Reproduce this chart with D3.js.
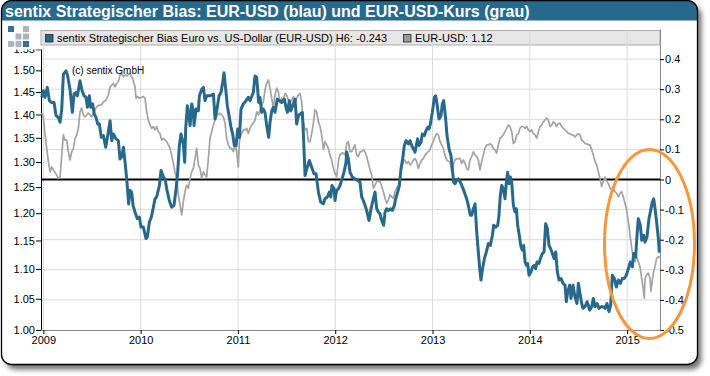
<!DOCTYPE html>
<html>
<head>
<meta charset="utf-8">
<script src="https://cdn.jsdelivr.net/npm/d3@7"></script>
<style>
body { margin: 0; background: #fff; }
svg text { font-family: Arial, "Liberation Sans", sans-serif; }
</style>
</head>
<body>
<svg width="710" height="376"></svg>
<script>
// decimal years / values
const biasYears = [
2008.983,2009.000,2009.017,2009.041,2009.062,2009.086,2009.110,2009.131,2009.154,2009.172,
2009.189,2009.206,2009.233,2009.250,2009.274,2009.298,2009.316,2009.336,2009.350,2009.377,
2009.398,2009.418,2009.439,2009.453,2009.473,2009.487,2009.507,2009.524,2009.542,2009.559,
2009.576,2009.596,2009.617,2009.641,2009.662,2009.686,2009.703,2009.720,2009.747,2009.771,
2009.788,2009.809,2009.823,2009.840,2009.857,2009.877,2009.891,2009.908,2009.922,2009.942,
2009.966,2009.987,2010.004,2010.028,2010.055,2010.069,2010.090,2010.110,2010.131,2010.148,
2010.165,2010.193,2010.210,2010.234,2010.251,2010.268,2010.295,2010.319,2010.343,2010.364,
2010.381,2010.398,2010.415,2010.439,2010.453,2010.463,2010.480,2010.497,2010.508,2010.525,
2010.542,2010.549,2010.570,2010.593,2010.604,2010.628,2010.645,2010.662,2010.679,2010.713,
2010.748,2010.765,2010.782,2010.806,2010.826,2010.843,2010.857,2010.871,2010.891,2010.912,
2010.929,2010.946,2010.963,2010.981,2010.998,2011.015,2011.032,2011.056,2011.083,2011.107,
2011.124,2011.158,2011.176,2011.193,2011.213,2011.227,2011.244,2011.261,2011.278,2011.296,
2011.316,2011.330,2011.347,2011.364,2011.381,2011.405,2011.426,2011.450,2011.477,2011.494,
2011.508,2011.529,2011.542,2011.563,2011.587,2011.604,2011.621,2011.638,2011.662,2011.672,
2011.690,2011.707,2011.734,2011.758,2011.782,2011.803,2011.827,2011.851,2011.878,2011.895,
2011.919,2011.940,2011.954,2011.967,2011.988,2011.998,2012.015,2012.032,2012.049,2012.070,
2012.090,2012.111,
2012.118,2012.135,2012.152,2012.176,2012.203,2012.231,2012.255,2012.272,2012.289,2012.313,
2012.327,2012.347,2012.368,2012.392,2012.409,2012.426,2012.443,2012.460,2012.477,2012.498,
2012.512,2012.529,2012.546,2012.570,2012.587,2012.608,2012.621,2012.642,2012.659,2012.676,
2012.693,2012.710,2012.728,2012.752,2012.769,2012.786,2012.803,2012.820,2012.834,2012.847,
2012.861,2012.882,2012.895,2012.916,2012.933,2012.950,2012.964,2012.978,2012.998,2013.019,
2013.032,2013.046,2013.067,2013.087,2013.101,2013.115,2013.135,2013.149,2013.170,2013.190,
2013.204,2013.217,2013.231,2013.248,2013.265,2013.286,2013.307,2013.327,2013.351,2013.368,
2013.389,2013.402,2013.420,2013.437,2013.454,2013.471,2013.485,2013.498,2013.512,2013.533,
2013.553,2013.574,2013.594,2013.615,2013.629,2013.649,2013.670,2013.683,2013.697,2013.711,
2013.728,2013.745,2013.759,2013.772,2013.786,2013.800,2013.814,2013.831,2013.848,2013.862,
2013.875,2013.892,2013.906,2013.923,2013.937,2013.951,2013.964,2013.978,2013.992,2014.012,
2014.029,2014.046,2014.060,2014.074,2014.095,2014.108,2014.129,2014.146,2014.163,2014.180,
2014.197,2014.214,2014.232,2014.249,2014.266,2014.283,2014.300,2014.321,2014.341,2014.362,
2014.375,2014.389,2014.410,2014.423,2014.444,2014.464,2014.485,2014.499,2014.516,2014.533,
2014.547,2014.567,2014.588,2014.601,2014.615,2014.636,2014.653,2014.670,2014.691,2014.711,
2014.732,2014.752,2014.773,2014.793,2014.814,2014.831,2014.848,2014.869,2014.889,2014.910,
2014.930,2014.951,2014.971,2014.992,2015.013,2015.033,2015.054,2015.067,2015.088,2015.102,
2015.115,2015.136,2015.150,2015.170,2015.184,2015.204,2015.225,2015.239,2015.259,2015.273,
2015.287,2015.307,2015.321,2015.331
];
const biasValues = [
0.273,0.295,0.273,0.306,0.262,0.256,0.256,0.212,0.206,0.190,
0.234,0.350,0.361,0.344,0.300,0.223,0.284,0.289,0.278,0.328,
0.295,0.278,0.273,0.240,0.278,0.240,0.251,0.217,0.206,0.184,
0.184,0.140,0.146,0.107,0.146,0.195,0.129,0.151,0.135,0.129,
0.068,0.079,0.107,0.057,0.002,-0.081,-0.036,-0.042,-0.086,-0.108,
-0.130,-0.125,-0.158,-0.158,-0.196,-0.191,-0.141,-0.125,-0.092,-0.064,
-0.058,-0.020,0.030,0.008,0.002,-0.031,-0.070,-0.092,-0.086,-0.031,
0.024,0.113,0.151,0.118,0.057,0.168,0.245,0.212,0.179,0.251,
0.228,0.179,0.234,0.228,0.278,0.300,0.306,0.262,0.278,0.278,
0.284,0.201,0.228,0.278,0.289,0.322,0.355,0.311,0.245,0.206,
0.173,0.151,0.113,0.113,0.168,0.140,0.234,0.251,0.262,0.273,
0.262,0.289,0.344,0.339,0.256,0.273,0.223,0.234,0.223,0.179,
0.140,0.190,0.228,0.240,0.223,0.267,0.262,0.256,0.267,0.240,
0.223,0.262,0.228,0.245,0.267,0.184,0.212,0.217,0.223,0.157,
0.013,0.035,0.063,0.041,0.019,0.019,-0.042,-0.075,-0.081,-0.064,
-0.058,-0.042,-0.058,-0.020,-0.031,-0.070,-0.036,-0.031,-0.020,0.002,
0.024,0.057,
0.091,0.068,0.024,0.008,0.002,-0.003,-0.009,-0.058,-0.070,-0.092,
-0.108,-0.136,-0.097,-0.064,-0.042,-0.097,-0.108,-0.114,-0.136,-0.152,
-0.108,-0.097,-0.103,-0.097,-0.103,-0.086,-0.064,-0.042,-0.020,0.035,
0.068,0.113,0.129,0.118,0.129,0.113,0.102,0.091,0.113,0.135,
0.113,0.124,0.151,0.146,0.162,0.173,0.168,0.184,0.223,0.273,
0.278,0.251,0.201,0.212,0.251,0.262,0.201,0.146,0.102,0.079,
0.035,-0.009,-0.014,-0.003,0.002,-0.009,-0.025,-0.042,-0.064,-0.086,
-0.119,-0.119,-0.097,-0.081,-0.174,-0.241,-0.296,-0.334,-0.301,-0.263,
-0.241,-0.213,-0.219,-0.185,-0.152,-0.158,-0.152,-0.119,-0.053,-0.020,
-0.031,-0.064,-0.009,0.024,-0.014,0.008,-0.009,-0.086,-0.108,-0.097,
-0.152,-0.185,-0.219,-0.235,-0.219,-0.274,-0.285,-0.279,-0.318,-0.307,
-0.290,-0.285,-0.296,-0.274,-0.279,-0.263,-0.246,-0.241,-0.147,-0.163,
-0.219,-0.230,-0.246,-0.263,-0.241,-0.307,-0.334,-0.329,-0.345,-0.351,
-0.406,-0.373,-0.351,-0.395,-0.351,-0.390,-0.412,-0.345,-0.379,-0.412,
-0.428,-0.423,-0.406,-0.417,-0.434,-0.423,-0.395,-0.423,-0.412,-0.428,
-0.423,-0.423,-0.428,-0.412,-0.439,-0.417,-0.318,-0.329,-0.357,-0.334,
-0.345,-0.329,-0.329,-0.318,-0.296,-0.274,-0.290,-0.246,-0.257,-0.185,
-0.130,-0.152,-0.202,-0.185,-0.208,-0.191,-0.130,-0.108,-0.075,-0.064,
-0.097,-0.152,-0.196,-0.243
];

const fxYears = [
2008.983,2009.000,2009.017,2009.035,2009.052,2009.069,2009.086,2009.103,2009.127,2009.154,
2009.172,2009.189,2009.206,2009.223,2009.240,2009.257,2009.274,2009.292,2009.309,2009.326,
2009.343,2009.360,2009.377,2009.394,2009.411,2009.428,2009.446,2009.463,2009.480,2009.497,
2009.514,2009.531,2009.548,2009.576,2009.600,2009.617,2009.644,2009.668,2009.685,2009.703,
2009.720,2009.737,2009.754,2009.771,2009.788,2009.805,2009.823,2009.840,2009.864,2009.884,
2009.898,2009.918,2009.942,2009.953,2009.966,2009.987,2010.011,2010.028,2010.045,2010.062,
2010.079,2010.097,2010.114,2010.131,2010.148,2010.165,2010.182,2010.199,2010.216,2010.234,
2010.251,2010.268,2010.285,2010.302,2010.319,2010.336,2010.353,2010.371,2010.388,2010.405,
2010.422,2010.439,2010.456,2010.473,2010.490,2010.508,2010.525,2010.542,2010.559,2010.576,
2010.593,2010.610,2010.628,2010.645,2010.662,2010.679,2010.696,2010.713,2010.730,2010.748,
2010.765,2010.782,2010.816,2010.833,2010.850,2010.867,2010.884,2010.902,2010.919,2010.936,
2010.953,2010.970,2010.987,2011.004,2011.015,2011.021,2011.039,2011.056,2011.073,2011.090,
2011.107,2011.124,2011.141,2011.158,2011.176,2011.193,2011.210,2011.227,2011.244,2011.261,
2011.278,2011.296,2011.313,2011.330,2011.347,2011.364,2011.381,2011.398,2011.415,2011.432,
2011.450,2011.467,2011.484,2011.501,2011.518,2011.535,2011.553,2011.570,2011.587,2011.604,
2011.621,2011.638,2011.655,2011.672,2011.690,2011.707,2011.724,2011.741,2011.758,2011.775,
2011.792,2011.809,2011.827,2011.844,2011.861,2011.878,2011.895,2011.912,2011.929,2011.946,
2011.963,2011.981,2011.998,2012.015,2012.032,2012.049,2012.066,2012.083,2012.101,
2012.118,2012.135,2012.152,2012.169,2012.186,2012.203,2012.221,2012.238,2012.255,2012.272,
2012.289,2012.306,2012.323,2012.341,2012.358,2012.375,2012.392,2012.409,2012.426,2012.443,
2012.460,2012.478,2012.495,2012.512,2012.529,2012.546,2012.563,2012.580,2012.597,2012.615,
2012.632,2012.649,2012.666,2012.683,2012.700,2012.717,2012.734,2012.752,2012.769,2012.786,
2012.803,2012.820,2012.837,2012.854,2012.871,2012.889,2012.906,2012.923,2012.940,2012.957,
2012.974,2012.991,2013.008,2013.026,2013.043,2013.060,2013.077,2013.094,2013.111,2013.128,
2013.146,2013.163,2013.180,2013.197,2013.214,2013.231,2013.248,2013.265,2013.283,2013.300,
2013.317,2013.334,2013.351,2013.368,2013.385,2013.402,2013.420,2013.437,2013.454,2013.471,
2013.488,2013.505,2013.522,2013.539,2013.557,2013.574,2013.591,2013.608,2013.625,2013.642,
2013.659,2013.677,2013.694,2013.711,2013.728,2013.745,2013.762,2013.779,2013.796,2013.814,
2013.831,2013.848,2013.865,2013.882,2013.899,2013.916,2013.933,2013.951,2013.968,2013.985,
2014.002,2014.019,2014.036,2014.053,2014.071,2014.088,2014.105,2014.122,2014.139,2014.156,
2014.173,2014.190,2014.208,2014.225,2014.242,2014.259,2014.276,2014.293,2014.310,2014.327,
2014.345,2014.362,2014.379,2014.396,2014.413,2014.430,2014.447,2014.464,2014.482,2014.499,
2014.516,2014.533,2014.550,2014.567,2014.584,2014.601,2014.619,2014.636,2014.653,2014.670,
2014.687,2014.704,2014.721,2014.738,2014.756,2014.773,2014.790,2014.807,2014.824,2014.841,
2014.858,2014.875,2014.893,2014.910,2014.927,2014.944,2014.961,2014.978,2014.995,2015.013,
2015.030,2015.047,2015.064,2015.081,2015.098,2015.115,2015.132,2015.150,2015.167,2015.177,
2015.184,2015.201,2015.218,2015.235,2015.245,2015.259,2015.273,2015.286,2015.303,2015.321,
2015.338
];
const fxValues = [
1.403,1.395,1.356,1.328,1.301,1.280,1.290,1.284,1.277,1.267,
1.270,1.314,1.356,1.345,1.345,1.321,1.304,1.321,1.328,1.349,
1.356,1.370,1.406,1.414,1.399,1.395,1.399,1.403,1.399,1.395,
1.403,1.410,1.417,1.421,1.421,1.428,1.432,1.443,1.462,1.466,
1.470,1.462,1.470,1.474,1.489,1.493,1.485,1.489,1.487,1.493,
1.489,1.481,1.462,1.436,1.440,1.436,1.438,1.440,1.436,1.406,
1.388,1.377,1.370,1.374,1.367,1.374,1.363,1.359,1.345,1.349,
1.345,1.342,1.335,1.328,1.314,1.297,1.280,1.267,1.235,1.216,
1.197,1.222,1.241,1.254,1.248,1.267,1.280,1.287,1.307,1.328,
1.294,1.287,1.267,1.280,1.274,1.270,1.307,1.349,1.363,1.377,
1.388,1.399,1.403,1.399,1.395,1.381,1.349,1.335,1.328,1.328,
1.321,1.335,1.321,1.290,1.342,1.349,1.359,1.367,1.367,1.370,
1.359,1.370,1.377,1.381,1.388,1.406,1.399,1.410,1.421,1.428,
1.455,1.470,1.478,1.459,1.436,1.417,1.443,1.459,1.451,1.428,
1.436,1.432,1.447,1.443,1.432,1.425,1.432,1.440,1.425,1.436,
1.443,1.447,1.428,1.384,1.367,1.370,1.342,1.342,1.359,1.381,
1.410,1.406,1.384,1.374,1.356,1.325,1.342,1.335,1.328,1.314,
1.304,1.287,1.277,1.270,1.301,1.314,1.318,1.318,1.314,
1.338,1.342,1.321,1.321,1.328,1.335,1.314,1.311,1.321,1.321,
1.325,1.321,1.311,1.297,1.284,1.274,1.248,1.254,1.261,1.261,
1.261,1.251,1.241,1.228,1.219,1.225,1.235,1.231,1.228,1.241,
1.248,1.254,1.267,1.290,1.301,1.304,1.297,1.301,1.294,1.297,
1.304,1.307,1.301,1.287,1.297,1.304,1.307,1.314,1.318,1.321,
1.325,1.335,1.342,1.352,1.359,1.356,1.342,1.335,1.328,1.314,
1.304,1.301,1.301,1.280,1.294,1.304,1.307,1.307,1.307,1.297,
1.304,1.297,1.287,1.284,1.304,1.311,1.321,1.314,1.311,1.304,
1.284,1.301,1.314,1.328,1.335,1.335,1.338,1.335,1.328,1.325,
1.318,1.335,1.349,1.352,1.356,1.363,1.370,1.377,1.374,1.363,
1.338,1.342,1.356,1.359,1.370,1.374,1.374,1.370,1.374,1.367,
1.363,1.367,1.359,1.356,1.349,1.363,1.374,1.377,1.384,1.388,
1.392,1.388,1.374,1.377,1.384,1.381,1.374,1.381,1.381,1.374,
1.370,1.367,1.363,1.359,1.359,1.356,1.356,1.352,1.356,1.359,
1.356,1.345,1.342,1.338,1.338,1.335,1.335,1.325,1.314,1.301,
1.294,1.280,1.267,1.251,1.261,1.270,1.261,1.257,1.248,1.244,
1.248,1.241,1.238,1.231,1.238,1.241,1.231,1.219,1.206,1.184,
1.160,1.136,1.118,1.113,1.121,1.113,1.104,1.084,1.064,1.051,
1.084,1.090,1.093,1.084,1.062,1.081,1.095,1.104,1.118,1.121,
1.120
];

const leftTicks = [1.00, 1.05, 1.10, 1.15, 1.20, 1.25, 1.30, 1.35, 1.40, 1.45, 1.50, 1.55];
const rightTicks = [-0.5, -0.4, -0.3, -0.2, -0.1, 0, 0.1, 0.2, 0.3, 0.4];
const yearTicks = [2009, 2010, 2011, 2012, 2013, 2014, 2015];

const title = "sentix Strategischer Bias: EUR-USD (blau) und EUR-USD-Kurs (grau)";
const legendNames = ["sentix Strategischer Bias Euro vs. US-Dollar (EUR-USD) H6: -0.243", "EUR-USD: 1.12"];
const colors = {bias: "#27698c", fx: "#a3a3a3", head: "#27698c", ring: "#f7963b"};

const bias = biasYears.map((t, i) => ({t: t, v: biasValues[i]}));
const fx = fxYears.map((t, i) => ({t: t, v: fxValues[i]}));

const svg = d3.select("svg");
const plot = {left: 41, right: 660, top: 29, bottom: 330};

const x = d3.scaleLinear().domain([2008.976, 2015.338]).range([plot.left, plot.right]);
const yL = d3.scaleLog().domain([1.0, 1.6]).range([plot.bottom, plot.top]);
const yR = d3.scaleLinear().domain([-0.5, 0.5]).range([plot.bottom, plot.top]);

// frame with shadow
const defs = svg.append("defs");
const f = defs.append("filter").attr("id", "shadow").attr("x", "-5%").attr("y", "-5%").attr("width", "115%").attr("height", "115%");
f.append("feDropShadow").attr("dx", 4).attr("dy", 5).attr("stdDeviation", 2.5)
    .attr("flood-color", "#000").attr("flood-opacity", 0.55);
defs.append("clipPath").attr("id", "frameClip")
  .append("rect").attr("x", 1.5).attr("y", 0.5).attr("width", 696).attr("height", 364).attr("rx", 10);
// the top tick label of the left axis sits half under the legend/logo area
// (clip box is in the axis group's own coordinates)
defs.append("clipPath").attr("id", "leftAxisClip")
  .append("rect").attr("x", -45).attr("y", 49.5).attr("width", 47).attr("height", 300);

svg.append("rect")
    .attr("x", 1.5).attr("y", 0.5).attr("width", 696).attr("height", 364).attr("rx", 10)
    .attr("fill", "#fff").attr("filter", "url(#shadow)");

svg.append("rect")
    .attr("clip-path", "url(#frameClip)")
    .attr("x", 0).attr("y", 0).attr("width", 700).attr("height", 20.5)
    .attr("fill", colors.head);

svg.append("rect")
    .attr("x", 1.5).attr("y", 0.5).attr("width", 696).attr("height", 364).attr("rx", 10)
    .attr("fill", "none").attr("stroke", "#000").attr("stroke-width", 1.3);

svg.append("text")
    .attr("x", 5).attr("y", 16.5)
    .attr("fill", "#fff").attr("font-size", "16px").attr("font-weight", "bold")
    .text(title);

// sentix logo
const logo = [[0, 0, 1], [2, 0, 0], [1, 1, 0], [2, 1, 0], [0, 2, 0], [1, 2, 0], [2, 2, 1]];
svg.append("g").selectAll("rect").data(logo).join("rect")
    .attr("x", d => 8 + d[0] * 7.5).attr("y", d => 26 + d[1] * 7.5)
    .attr("width", 6).attr("height", 6)
    .attr("fill", d => d[2] ? "#3a6f93" : "#a9b6c2");

// legend band
svg.append("rect")
    .attr("x", plot.left).attr("y", 30.5).attr("width", plot.right - plot.left).attr("height", 14.5)
    .attr("fill", "#e6e6e6").attr("stroke", "#9a9a9a").attr("stroke-width", 0.8);

const g = svg.append("g");

// grid
g.append("g").selectAll("line").data(yearTicks).join("line")
    .attr("x1", d => x(d)).attr("x2", d => x(d))
    .attr("y1", plot.top + 1).attr("y2", plot.bottom)
    .attr("stroke", "#d9d9d9").attr("stroke-width", 1);
g.append("g").selectAll("line").data(rightTicks.filter(d => d !== 0 && d !== -0.5)).join("line")
    .attr("x1", plot.left).attr("x2", plot.right)
    .attr("y1", d => yR(d)).attr("y2", d => yR(d))
    .attr("stroke", "#d9d9d9").attr("stroke-width", 1);

// axes
const fmtL = d => d.toFixed(2);
const fmtR = d => d === 0 ? "0" : d.toFixed(1);

const axL = g.append("g").attr("transform", "translate(" + plot.left + ",0)")
    .call(d3.axisLeft(yL).tickValues(leftTicks).tickFormat(fmtL).tickSize(5).tickSizeOuter(0));
const axR = g.append("g").attr("transform", "translate(" + plot.right + ",0)")
    .call(d3.axisRight(yR).tickValues(rightTicks).tickFormat(fmtR).tickSize(4).tickSizeOuter(0));
const axB = g.append("g").attr("transform", "translate(0," + plot.bottom + ")")
    .call(d3.axisBottom(x).tickValues(yearTicks).tickFormat(d3.format("d")).tickSize(4).tickSizeOuter(0));

[axL, axR, axB].forEach(a => {
    a.selectAll("text").attr("font-family", "Arial, 'Liberation Sans', sans-serif")
        .attr("font-size", "11px").attr("fill", "#000");
    a.selectAll(".tick line").attr("stroke", "#000");
});
axL.attr("clip-path", "url(#leftAxisClip)");
axL.select(".domain").attr("stroke", "#000");
axR.select(".domain").attr("stroke", "#8a8a8a");
axB.select(".domain").attr("stroke", "#8a8a8a");
axL.selectAll("text").attr("x", -6);
axR.selectAll("text").attr("x", 5);
axB.selectAll("text").attr("dy", "0.95em").attr("y", 4);

// legend markers/text (over grid)
const leg = svg.append("g").attr("font-size", "11px");
leg.append("rect").attr("x", 45.5).attr("y", 34.5).attr("width", 7.5).attr("height", 7.5)
    .attr("fill", colors.bias).attr("stroke", "#222").attr("stroke-width", 0.8);
leg.append("text").attr("x", 57).attr("y", 42).attr("fill", "#000").text(legendNames[0]);
leg.append("rect").attr("x", 403.5).attr("y", 34.5).attr("width", 7.5).attr("height", 7.5)
    .attr("fill", "#999").attr("stroke", "#222").attr("stroke-width", 0.8);
leg.append("text").attr("x", 415).attr("y", 42).attr("fill", "#000").text(legendNames[1]);

svg.append("text").attr("x", 72).attr("y", 74).attr("font-size", "10px").attr("fill", "#000")
    .text("(c) sentix GmbH");

// zero line
g.append("line")
    .attr("x1", plot.left).attr("x2", plot.right)
    .attr("y1", yR(0)).attr("y2", yR(0))
    .attr("stroke", "#000").attr("stroke-width", 2.2);

// series
const lineFx = d3.line().x(d => x(d.t)).y(d => yL(d.v));
const lineBias = d3.line().x(d => x(d.t)).y(d => yR(d.v));

g.append("path").datum(fx)
    .attr("fill", "none").attr("stroke", colors.fx)
    .attr("stroke-width", 1.7).attr("stroke-linejoin", "round")
    .attr("d", lineFx);

g.append("path").datum(bias)
    .attr("fill", "none").attr("stroke", colors.bias)
    .attr("stroke-width", 3).attr("stroke-linejoin", "round")
    .attr("d", lineBias);

// orange ring around the latest weeks
svg.append("ellipse")
    .attr("cx", x(2015.23)).attr("cy", yR(-0.214))
    .attr("rx", 45).attr("ry", 94.5)
    .attr("fill", "none").attr("stroke", colors.ring).attr("stroke-width", 3);
</script>
</body>
</html>
